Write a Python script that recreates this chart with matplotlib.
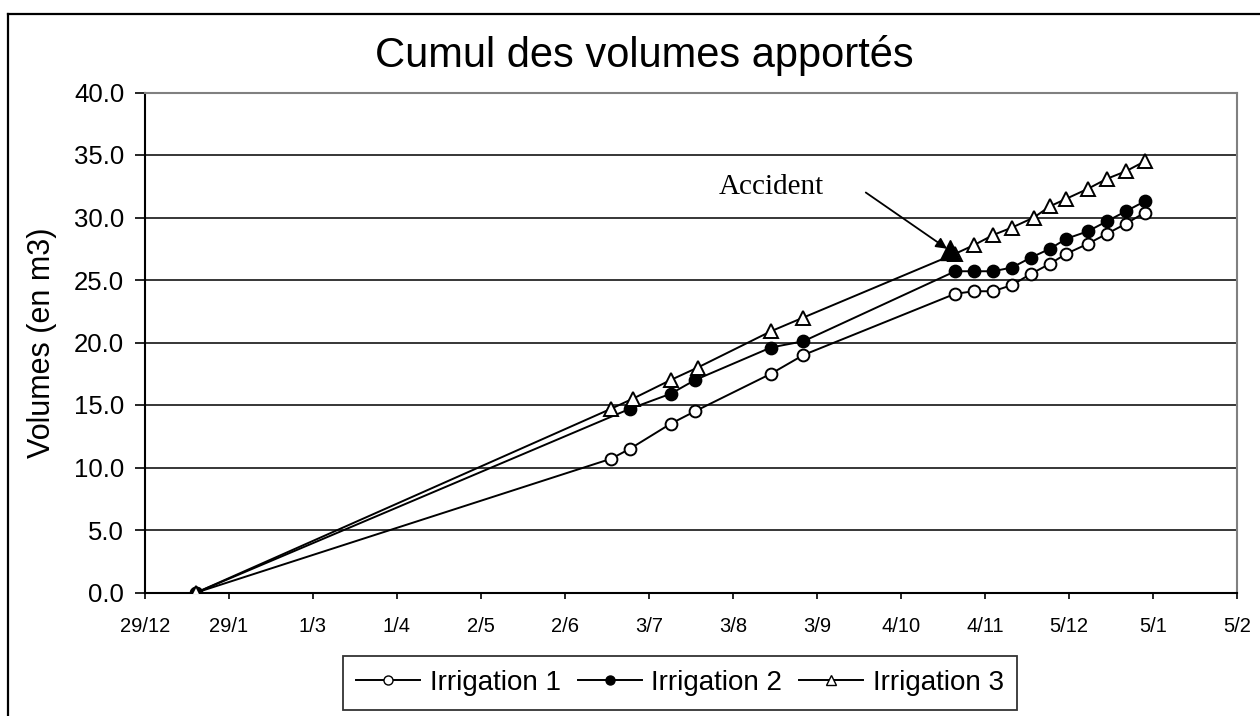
import matplotlib.pyplot as plt
from matplotlib.lines import Line2D

# jours depuis le 29/12
jours_1 = [19, 172, 179, 194, 203, 231, 243, 299, 306, 313, 320, 327, 334, 340, 348, 355, 362, 369]
irrigation_1 = [0.0, 10.7, 11.5, 13.5, 14.5, 17.5, 19.0, 23.9, 24.1, 24.1, 24.6, 25.5, 26.3, 27.1, 27.9, 28.7, 29.5, 30.4]

jours_2 = [19, 179, 194, 203, 231, 243, 299, 306, 313, 320, 327, 334, 340, 348, 355, 362, 369]
irrigation_2 = [0.0, 14.7, 15.9, 17.0, 19.6, 20.1, 25.7, 25.7, 25.7, 26.0, 26.8, 27.5, 28.3, 28.9, 29.7, 30.5, 31.3]

jours_3 = [19, 172, 180, 194, 204, 231, 243, 299, 306, 313, 320, 328, 334, 340, 348, 355, 362, 369]
irrigation_3 = [0.0, 14.7, 15.5, 17.0, 18.0, 20.9, 22.0, 27.1, 27.8, 28.6, 29.2, 30.0, 30.9, 31.5, 32.3, 33.1, 33.7, 34.5]

accident_jour = 297
accident_volume = 27.4

tick_jours = list(range(0, 404, 31))
tick_labels = ['29/12', '29/1', '1/3', '1/4', '2/5', '2/6', '3/7', '3/8', '3/9',
               '4/10', '4/11', '5/12', '5/1', '5/2']

plt.rcParams['font.family'] = ['Liberation Sans', 'DejaVu Sans']

fig = plt.figure(figsize=(12.6, 7.16), dpi=100)
ax = fig.add_axes([145 / 1260, 1 - 592.5 / 716, (1237 - 145) / 1260, 500 / 716])

# cadre du graphique
fig.add_artist(Line2D([8 / 1260, 8 / 1260], [0, 1 - 14 / 716], color='black', lw=1.6))
fig.add_artist(Line2D([8 / 1260, 1], [1 - 14 / 716, 1 - 14 / 716], color='black', lw=1.6))

ax.plot(jours_1, irrigation_1, color='black', lw=1.4, marker='o', ms=8.5,
        mfc='white', mec='black', mew=1.4, zorder=3)
ax.plot(jours_2, irrigation_2, color='black', lw=1.4, marker='o', ms=8.5,
        mfc='black', mec='black', mew=1.4, zorder=4)
ax.plot(jours_3, irrigation_3, color='black', lw=1.4, marker='^', ms=10,
        mfc='white', mec='black', mew=1.4, zorder=5)
ax.plot([accident_jour], [accident_volume], marker='^', ms=15, color='black', zorder=6)

# texte et flèche "Accident"
ax.text(231, 32.45, 'Accident', family=['Liberation Serif', 'DejaVu Serif'],
        fontsize=21, ha='center', va='center')
ax.annotate('', xy=(accident_jour - 1, accident_volume + 0.1), xytext=(266, 32.0),
            arrowprops=dict(arrowstyle='-|>', color='black', lw=1.3,
                            shrinkA=0, shrinkB=0, mutation_scale=16))

ax.set_xlim(0, 403)
ax.set_ylim(0, 40)
ax.set_xticks(tick_jours)
ax.set_xticklabels(tick_labels, fontsize=14.5)
ax.set_yticks(range(0, 41, 5))
ax.set_yticklabels([f'{v:.1f}' for v in range(0, 41, 5)], fontsize=18.5)
ax.tick_params(axis='x', direction='out', length=4.5, width=1.2, pad=13)
ax.tick_params(axis='y', direction='out', length=7, width=1.2, pad=8)

ax.grid(axis='y', color='black', lw=1.1)
ax.set_axisbelow(True)
for s in ['left', 'bottom']:
    ax.spines[s].set_linewidth(1.5)
    ax.spines[s].set_color('black')
for s in ['top', 'right']:
    ax.spines[s].set_linewidth(1.5)
    ax.spines[s].set_color('#808080')

ax.set_ylabel('Volumes (en m3)', fontsize=22, labelpad=12)
fig.text(644 / 1260, 1 - 55 / 716, 'Cumul des volumes apportés', fontsize=30,
         ha='center', va='center')

handles = [
    Line2D([], [], color='black', lw=1.4, marker='o', ms=6.5, mfc='white', mec='black'),
    Line2D([], [], color='black', lw=1.4, marker='o', ms=6.5, mfc='black', mec='black'),
    Line2D([], [], color='black', lw=1.4, marker='^', ms=7.5, mfc='white', mec='black'),
]
leg = fig.legend(handles, ['Irrigation 1', 'Irrigation 2', 'Irrigation 3'],
                 loc='center', bbox_to_anchor=(680 / 1260, 1 - 683 / 716), ncol=3,
                 fontsize=20, frameon=True, fancybox=False, edgecolor='black',
                 handlelength=2.3, handletextpad=0.35, columnspacing=0.6,
                 borderpad=0.5, borderaxespad=0)
leg.get_frame().set_linewidth(1.3)

fig.savefig('out.png', dpi=100)
